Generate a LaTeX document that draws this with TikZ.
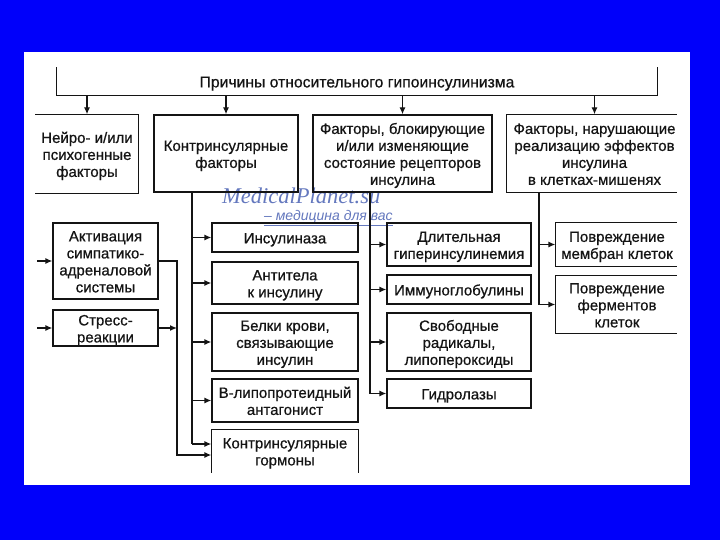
\documentclass[tikz,border=0pt]{standalone}
\usepackage{fontspec}
\setmainfont{Liberation Sans}
\newfontfamily\boxfont{Liberation Sans}[FakeBold=0.6,BoldFont=Liberation Sans,BoldFeatures={FakeBold=0.6}]
\newfontfamily\wmserif{Liberation Serif}
\usetikzlibrary{arrows.meta,calc}
\definecolor{bgblue}{RGB}{0,0,250}
\definecolor{ink}{RGB}{20,20,20}
\definecolor{wm}{RGB}{100,120,190}
\tikzset{
 box/.style={draw=ink, line width=1.3pt, rectangle, inner sep=0pt},
 openbox/.style={box, draw=none},
 boxtext/.style={inner sep=0pt, text=ink, font=\boxfont\bfseries\fontsize{15}{17}\selectfont},
 edge/.style={draw=ink, line width=1.3pt},
 arr/.style={edge, -{Latex[length=7pt,width=6pt]}},
 wmtext/.style={text=wm, inner sep=0pt, anchor=base west},
}
\newcommand\mkbox[7]{%
 \node[#7, minimum width={(#4-#2)*1pt}, minimum height={(#5-#3)*1pt}] (#1) at ({(#2+#4)/2},{(#3+#5)/2}) {};
 \node[boxtext] (#1t) at ($(#1.center)+(0,2.5)$) {\begin{tabular}{@{}c@{}}#6\end{tabular}};}
\begin{document}
\begin{tikzpicture}[x=1pt,y=-1pt]
\fill[bgblue] (0,0) rectangle (720,540);
\fill[white] (24,52) rectangle (690,485);
\useasboundingbox (0,0) rectangle (720,540);
% watermark
\node[wmtext, font=\wmserif\itshape\fontsize{22.5}{22.5}\selectfont] (wm1) at (222,204) {MedicalPlanet.su};
\node[wmtext, font=\itshape\fontsize{14}{14}\selectfont] (wm2) at (264,221) {\underline{– медицина для вас}};
% top
\mkbox{top}{57}{68}{657}{95}{\fontsize{15.7}{16}\selectfont Причины относительного гипоинсулинизма}{openbox}
\draw[edge] (top.north west) -- (top.south west) -- (top.south east) -- (top.north east);
% second row
\mkbox{b1}{36}{115}{138}{193}{Нейро- и/или\\психогенные\\факторы}{openbox}
\draw[edge] (b1.north west) -- (b1.north east) -- (b1.south east) -- (b1.south west);
\mkbox{b2}{154}{115}{298}{192}{Контринсулярные\\факторы}{box}
\mkbox{b3}{313}{115}{492}{192}{Факторы, блокирующие\\и/или изменяющие\\состояние рецепторов\\инсулина}{box}
\mkbox{b4}{507}{115}{682}{192}{Факторы, нарушающие\\реализацию эффектов\\инсулина\\в клетках-мишенях}{openbox}
\draw[edge] ($(b4.north east)+(-6,0)$) -- (b4.north west) -- (b4.south west) -- ($(b4.south east)+(-6,0)$);
\foreach \b in {b1,b2,b3,b4} \draw[arr] (\b.north |- top.south) -- (\b.north);
% left column
\mkbox{a1}{53}{223}{158}{299}{Активация\\симпатико-\\адреналовой\\системы}{box}
\mkbox{a2}{53}{310}{158}{346}{Стресс-\\реакции}{box}
% middle column
\mkbox{m1}{212}{223}{358}{252}{Инсулиназа}{box}
\mkbox{m2}{212}{262}{358}{304}{Антитела\\к инсулину}{box}
\mkbox{m3}{212}{313}{358}{371}{Белки крови,\\связывающие\\инсулин}{box}
\mkbox{m4}{212}{379}{358}{422}{В-липопротеидный\\антагонист}{box}
\mkbox{m5}{212}{430}{358}{472}{Контринсулярные\\гормоны}{openbox}
\draw[edge] (m5.south west) -- (m5.north west) -- (m5.north east) -- (m5.south east);
% third column
\mkbox{c1}{387}{223}{531}{266}{Длительная\\гиперинсулинемия}{box}
\mkbox{c2}{387}{275}{531}{304}{Иммуноглобулины}{box}
\mkbox{c3}{387}{313}{531}{371}{Свободные\\радикалы,\\липопероксиды}{box}
\mkbox{c4}{387}{379}{531}{408}{Гидролазы}{box}
% fourth column
\mkbox{d1}{556}{223}{678}{266}{Повреждение\\мембран клеток}{openbox}
\draw[edge] ($(d1.north east)+(-2,0)$) -- (d1.north west) -- (d1.south west) -- ($(d1.south east)+(-2,0)$);
\mkbox{d2}{556}{276}{678}{333}{Повреждение\\ферментов\\клеток}{openbox}
\draw[edge] ($(d2.north east)+(-2,0)$) -- (d2.north west) -- (d2.south west) -- ($(d2.south east)+(-2,0)$);
% trunk coordinates
\coordinate (v1x) at (177,0);
\coordinate (v2x) at (192,0);
\coordinate (v3x) at (370,0);
\coordinate (v4x) at (539,0);
\coordinate (in1) at (37,0);
\coordinate (m5a) at ($(m5.west)+(0,-7)$);
\coordinate (m5b) at ($(m5.west)+(0,4)$);
% left inputs
\draw[arr] (in1 |- a1.west) -- (a1.west);
\draw[arr] (in1 |- a2.west) -- (a2.west);
% contrinsular branch
\draw[edge] (b2.south -| v2x) -- (v2x |- m5a);
\foreach \m in {m1,m2,m3,m4} \draw[arr] (v2x |- \m.west) -- (\m.west);
\draw[arr] (v2x |- m5a) -- (m5a);
\draw[arr] (a1.east) -- (v1x |- a1.east) -- (v1x |- m5b) -- (m5b);
\draw[arr] (a2.east) -- (v1x |- a2.east);
% receptor branch
\draw[edge] (b3.south -| v3x) -- (v3x |- c4.west);
\foreach \c in {c1,c2,c3,c4} \draw[arr] (v3x |- \c.west) -- (\c.west);
% target-cell branch
\draw[edge] (b4.south -| v4x) -- (v4x |- d2.west);
\foreach \d in {d1,d2} \draw[arr] (v4x |- \d.west) -- (\d.west);
\end{tikzpicture}
\end{document}
